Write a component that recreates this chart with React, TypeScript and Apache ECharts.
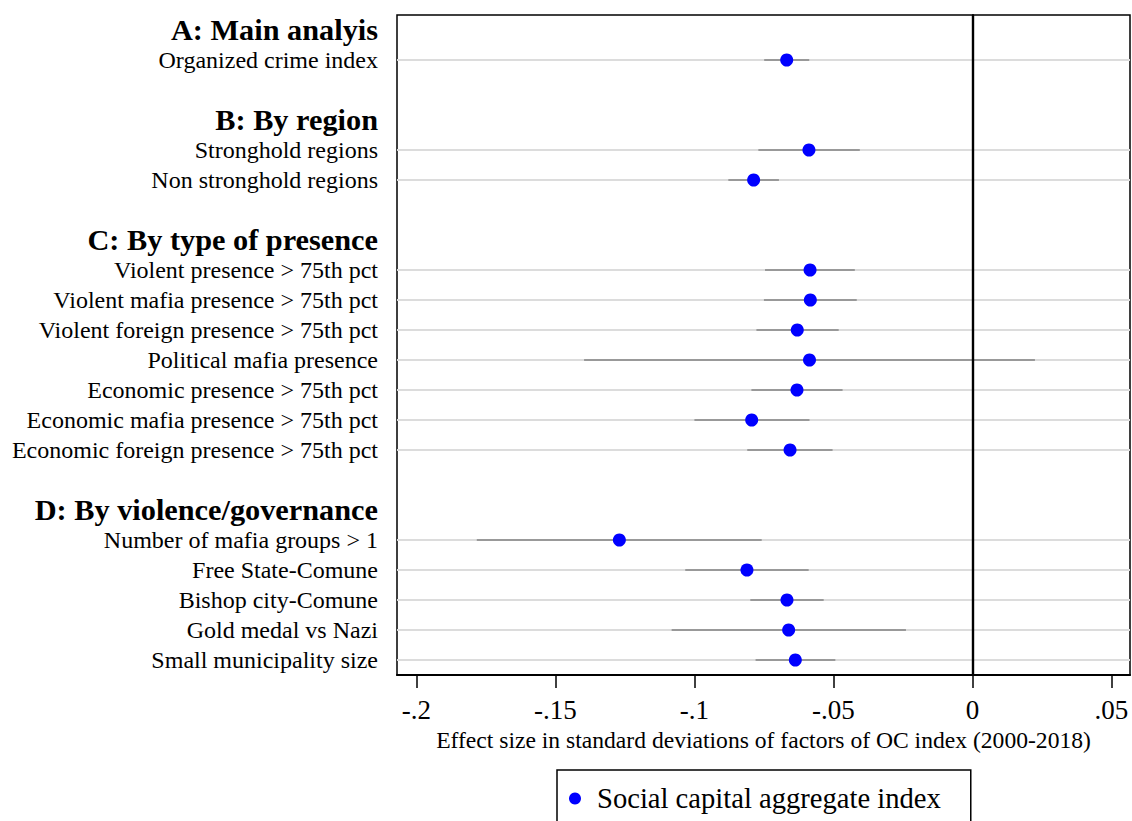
import React, { useEffect, useRef } from "react";
import * as echarts from "echarts";

const FONT = "'Liberation Serif', 'Times New Roman', serif";

const groupTitles = [
  "A: Main analyis",
  "B: By region",
  "C: By type of presence",
  "D: By violence/governance",
];

const rowLabels = [
  "Organized crime index",
  "Stronghold regions",
  "Non stronghold regions",
  "Violent presence > 75th pct",
  "Violent mafia presence > 75th pct",
  "Violent foreign presence > 75th pct",
  "Political mafia presence",
  "Economic presence > 75th pct",
  "Economic mafia presence > 75th pct",
  "Economic foreign presence > 75th pct",
  "Number of mafia groups > 1",
  "Free State-Comune",
  "Bishop city-Comune",
  "Gold medal vs Nazi",
  "Small municipality size",
];

const rowGroup = [0, 1, 1, 2, 2, 2, 2, 2, 2, 2, 3, 3, 3, 3, 3];

const estimates = [
  -0.0668, -0.0588, -0.0787, -0.0584, -0.0583, -0.063, -0.0586, -0.0631,
  -0.0794, -0.0656, -0.127, -0.0811, -0.0667, -0.0661, -0.0637,
];
const lowerCI = [
  -0.0749, -0.077, -0.0878, -0.0746, -0.075, -0.0777, -0.1397, -0.0795,
  -0.1, -0.081, -0.1783, -0.1033, -0.0799, -0.1082, -0.078,
];
const upperCI = [
  -0.0587, -0.0405, -0.0696, -0.0423, -0.0416, -0.0481, 0.0225, -0.0467,
  -0.0586, -0.0503, -0.0758, -0.0589, -0.0535, -0.0239, -0.0493,
];

const xTicks = [-0.2, -0.15, -0.1, -0.05, 0, 0.05];
const seriesName = "Social capital aggregate index";
const xTitle =
  "Effect size in standard deviations of factors of OC index (2000-2018)";

// Build slot layout: blank line before each group (except first), header, rows
const categories: string[] = [];
const headerSlots = new Set<number>();
const rowSlot: number[] = [];
groupTitles.forEach((g, gi) => {
  if (gi > 0) categories.push(" ".repeat(gi));
  headerSlots.add(categories.length);
  categories.push(g);
  rowLabels.forEach((r, ri) => {
    if (rowGroup[ri] === gi) {
      rowSlot[ri] = categories.length;
      categories.push(r);
    }
  });
});
const rowSlotSet = new Set(rowSlot);

const fmtTick = (v: number) => {
  if (Math.abs(v) < 1e-9) return "0";
  const s = String(Math.round(Math.abs(v) * 1000) / 1000).replace(/^0/, "");
  return (v < 0 ? "-" : "") + s;
};

export default function App() {
  const ref = useRef<HTMLDivElement>(null);
  useEffect(() => {
    if (!ref.current) return;
    const chart = echarts.init(ref.current, undefined, { renderer: "svg" });
    const pointData = estimates.map((e, i) => [e, rowSlot[i]]);
    const ciData = estimates.map((e, i) => [lowerCI[i], rowSlot[i], upperCI[i]]);
    chart.setOption({
      animation: false,
      backgroundColor: "#ffffff",
      textStyle: { fontFamily: FONT },
      grid: {
        left: 397,
        right: 2,
        top: 15,
        height: 660,
        show: true,
        borderColor: "#000",
        borderWidth: 1.5,
        containLabel: false,
      },
      legend: {
        data: [seriesName],
        left: 557,
        top: 770,
        orient: "horizontal",
        borderColor: "#000",
        borderWidth: 1.5,
        padding: [14, 30, 14, 12],
        itemWidth: 12,
        itemHeight: 12,
        icon: "circle",
        itemStyle: { opacity: 1 },
        textStyle: {
          fontFamily: FONT,
          fontSize: 28.6,
          color: "#000",
          padding: [0, 0, 0, 11],
        },
      },
      xAxis: {
        type: "value",
        min: -0.207,
        max: 0.0567,
        splitLine: { show: false },
        axisLine: { show: true, lineStyle: { color: "#000", width: 2 } },
        axisTick: {
          show: true,
          customValues: xTicks,
          length: 13,
          lineStyle: { color: "#000", width: 1.5 },
        },
        axisLabel: {
          customValues: xTicks,
          formatter: (v: number) => fmtTick(v),
          fontFamily: FONT,
          fontSize: 27,
          color: "#000",
          margin: 21,
        },
        name: xTitle,
        nameLocation: "middle",
        nameGap: 52,
        nameTextStyle: { fontFamily: FONT, fontSize: 23.6, color: "#000" },
      },
      yAxis: {
        type: "category",
        data: categories,
        inverse: true,
        boundaryGap: true,
        axisLine: { show: true, lineStyle: { color: "#000", width: 2 } },
        axisTick: {
          show: true,
          alignWithLabel: true,
          length: 13,
          interval: (idx: number) => rowSlotSet.has(idx),
          lineStyle: { color: "#000", width: 1.5 },
        },
        splitLine: { show: false },
        axisLabel: {
          interval: 0,
          margin: 19,
          color: "#000",
          formatter: (val: string, idx: number) =>
            headerSlots.has(idx) ? `{h|${val}}` : `{r|${val}}`,
          rich: {
            h: { fontFamily: FONT, fontSize: 30.3, fontWeight: "bold", color: "#000" },
            r: { fontFamily: FONT, fontSize: 24, color: "#000" },
          },
        },
      },
      series: [
        {
          name: "grid",
          type: "custom",
          z: 1,
          silent: true,
          data: pointData,
          encode: { x: 0, y: 1 },
          renderItem: (params: any, api: any) => {
            const y = api.coord([0, api.value(1)])[1];
            const cs = params.coordSys;
            return {
              type: "line",
              shape: { x1: cs.x, y1: y, x2: cs.x + cs.width, y2: y },
              style: { stroke: "#dcdcdc", lineWidth: 2 },
            };
          },
          markLine: {
            silent: true,
            symbol: "none",
            label: { show: false },
            lineStyle: { color: "#000", width: 2.4, type: "solid", opacity: 1 },
            data: [{ xAxis: 0 }],
          },
        },
        {
          name: "ci",
          type: "custom",
          z: 3,
          silent: true,
          data: ciData,
          encode: { x: [0, 2], y: 1 },
          renderItem: (params: any, api: any) => {
            const a = api.coord([api.value(0), api.value(1)]);
            const b = api.coord([api.value(2), api.value(1)]);
            return {
              type: "line",
              shape: { x1: a[0], y1: a[1], x2: b[0], y2: b[1] },
              style: { stroke: "#999999", lineWidth: 2 },
            };
          },
        },
        {
          name: seriesName,
          type: "scatter",
          z: 4,
          symbol: "circle",
          symbolSize: 13,
          itemStyle: { color: "#0000ff", opacity: 1 },
          data: pointData,
        },
      ],
    });
    return () => chart.dispose();
  }, []);
  return (
    <div
      ref={ref}
      style={{ position: "fixed", left: 0, top: 0, width: 1132, height: 821 }}
    />
  );
}
